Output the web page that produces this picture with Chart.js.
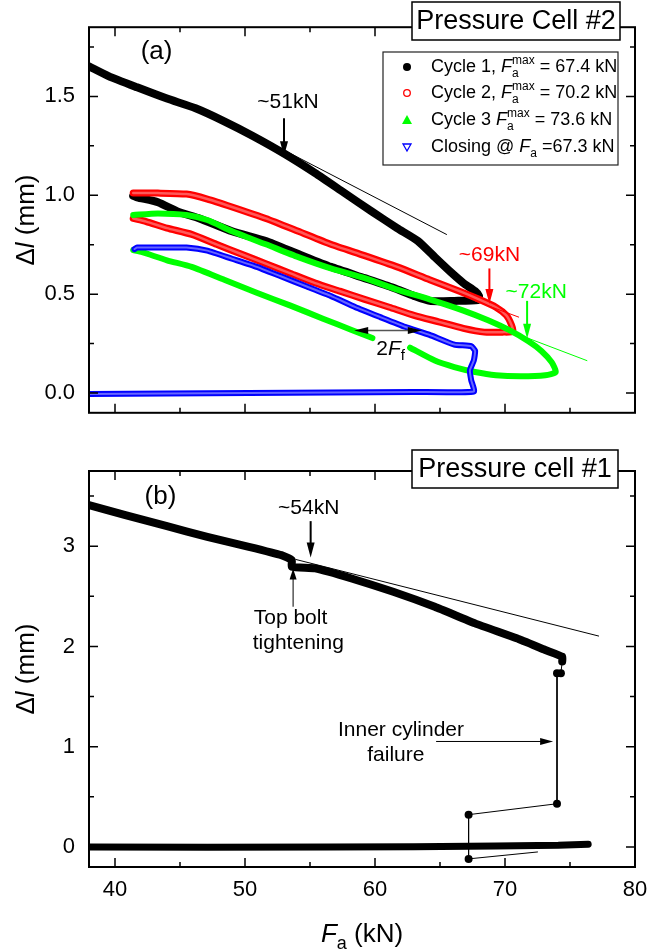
<!DOCTYPE html>
<html>
<head>
<meta charset="utf-8">
<script src="https://cdn.jsdelivr.net/npm/chart.js@4.4.0/dist/chart.umd.min.js"></script>
<style>
  body { margin: 0; background: #fff; width: 648px; height: 952px; position: relative; overflow: hidden; }
  .panel { position: absolute; left: 0; width: 648px; }
  #panelA { top: 0; height: 440px; }
  #panelB { top: 440px; height: 512px; }
</style>
</head>
<body>
<div class="panel" id="panelA"><canvas id="chartA" width="648" height="440"></canvas></div>
<div class="panel" id="panelB"><canvas id="chartB" width="648" height="512"></canvas></div>
<script>
// axis ticks
const fkMajor = [40, 50, 60, 70, 80];
const fkMinor = [45, 55, 65, 75];
const dlMajorA = [0, 0.5, 1.0, 1.5];
const dlLabelsA = ['0.0', '0.5', '1.0', '1.5'];
const dlMinorA = [0.25, 0.75, 1.25, 1.75];
const dlMajorB = [0, 1, 2, 3];
const dlLabelsB = ['0', '1', '2', '3'];
const dlMinorB = [0.5, 1.5, 2.5, 3.5];

// (a) pressure cell #2
const cyc1F = [38.0, 39.5, 41.7, 44.0, 46.2, 48.4, 50.6, 53.0, 55.4, 57.6, 59.8, 61.7, 63.3, 64.6, 65.8, 66.8, 67.7, 68.0, 67.9, 66.1, 64.2, 63.0, 61.4, 59.2, 56.6, 54.1, 51.6, 49.0, 46.5, 44.9, 43.3, 41.7, 41.4];
const cyc1L = [1.652, 1.603, 1.546, 1.489, 1.440, 1.374, 1.300, 1.211, 1.112, 1.014, 0.916, 0.834, 0.769, 0.687, 0.613, 0.556, 0.515, 0.491, 0.470, 0.466, 0.466, 0.491, 0.532, 0.581, 0.638, 0.703, 0.769, 0.818, 0.883, 0.916, 0.965, 0.990, 0.998];

const cyc2F = [41.4, 43.3, 45.5, 47.1, 49.0, 51.6, 54.1, 56.6, 59.2, 61.7, 64.2, 66.5, 68.0, 69.3, 70.1, 70.5, 70.6, 69.9, 68.4, 66.8, 64.9, 63.0, 61.1, 59.2, 57.3, 55.4, 53.5, 51.6, 49.7, 47.8, 45.9, 44.0, 42.4, 41.4];
const cyc2L = [1.011, 1.011, 1.006, 0.981, 0.941, 0.883, 0.818, 0.752, 0.695, 0.638, 0.573, 0.515, 0.474, 0.434, 0.393, 0.344, 0.311, 0.308, 0.308, 0.327, 0.360, 0.393, 0.434, 0.474, 0.515, 0.556, 0.605, 0.654, 0.703, 0.752, 0.802, 0.834, 0.867, 0.883];

const cyc3F = [41.4, 43.3, 45.5, 47.1, 49.0, 51.6, 54.1, 56.6, 59.2, 61.7, 64.2, 66.8, 68.7, 70.3, 71.8, 72.8, 73.6, 73.9, 73.1, 71.2, 69.3, 67.7, 66.1, 64.6, 62.7, 61.2, 59.8, 58.2, 56.0, 53.5, 50.9, 48.4, 45.9, 44.0, 42.1, 41.4];
const cyc3L = [0.900, 0.908, 0.900, 0.875, 0.818, 0.752, 0.687, 0.630, 0.581, 0.523, 0.474, 0.417, 0.368, 0.319, 0.262, 0.213, 0.155, 0.106, 0.090, 0.085, 0.090, 0.106, 0.131, 0.164, 0.229, null, 0.278, 0.319, 0.376, 0.442, 0.507, 0.573, 0.638, 0.671, 0.712, 0.723];

const closeF = [38.0, 44.0, 50.3, 56.6, 63.0, 67.6, 67.4, 67.3, 67.6, 67.7, 67.4, 66.1, 64.2, 62.3, 60.4, 58.5, 56.6, 54.7, 52.8, 50.9, 49.0, 47.1, 45.5, 44.0, 41.7, 41.5];
const closeL = [-0.005, -0.003, 0.0, 0.003, 0.005, 0.008, 0.065, 0.115, 0.164, 0.213, 0.237, 0.245, 0.294, 0.335, 0.384, 0.434, 0.491, 0.540, 0.589, 0.638, 0.679, 0.720, 0.736, 0.736, 0.736, 0.728];

const tanBlackF = [51.6, 65.5], tanBlackL = [1.276, 0.802];
const tanRedF = [67.7, 71.05], tanRedL = [0.466, 0.384];
const tanGreenF = [70.3, 76.3], tanGreenL = [0.314, 0.164];

// (b) pressure cell #1
const mainF = [38.0, 40.8, 44.0, 47.1, 50.3, 52.8, 53.6, 53.6, 55.4, 58.2, 61.4, 64.6, 67.7, 70.9, 73.1, 74.4, 74.4];
const mainL = [3.409, 3.309, 3.199, 3.093, 2.994, 2.911, 2.861, 2.795, 2.778, 2.678, 2.546, 2.396, 2.230, 2.081, 1.965, 1.898, 1.849];
const baseF = [38.0, 47.1, 56.6, 63.0, 69.3, 74.1, 76.4];
const baseL = [0.0, -0.003, 0.0, 0.003, 0.010, 0.017, 0.027];
const failF = [74.4, 74.3, 74.0, 74.0, 67.2, 67.2, 72.5];
const failL = [1.849, 1.733, 1.733, 0.431, 0.322, -0.119, -0.050];
const failDot = [0, 4, 4, 4, 4, 4, 0];
const tanBF = [53.9, 77.2], tanBL = [2.868, 2.104];

const FONT = '"Liberation Sans", Arial, Helvetica, sans-serif';
const GREEN = '#00ff00';

function pts(xs, ys) {
  return xs.map((x, i) => ({ x: x, y: ys[i] }));
}

function band(data, color, width, order, tension) {
  return { data: data, showLine: true, borderColor: color, borderWidth: width, pointRadius: 0,
    tension: tension || 0, borderJoinStyle: 'round', borderCapStyle: 'round', clip: 0, order: order };
}

function fontOf(r) {
  return (r.i ? 'italic ' : '') + r.s + 'px ' + FONT;
}
function runW(ctx, r) {
  ctx.font = fontOf(r);
  if (r.t !== undefined) return ctx.measureText(r.t).width;
  return Math.max(r.sub ? ctx.measureText(r.sub).width : 0, r.sup ? ctx.measureText(r.sup).width : 0);
}
// rich text: runs of normal / italic / sub / sup text
function drawRuns(ctx, x, y, runs, align, color) {
  const w = runs.reduce((a, r) => a + runW(ctx, r), 0);
  let cx = align === 'center' ? x - w / 2 : (align === 'right' ? x - w : x);
  ctx.fillStyle = color || '#000';
  ctx.textAlign = 'left';
  ctx.textBaseline = 'middle';
  runs.forEach(r => {
    ctx.font = fontOf(r);
    if (r.t !== undefined) ctx.fillText(r.t, cx, y);
    if (r.sub) ctx.fillText(r.sub, cx, y + (r.subOff || 7));
    if (r.sup) ctx.fillText(r.sup, cx, y - (r.supOff || 6));
    cx += runW(ctx, r);
  });
}

function arrowHead(ctx, x1, y1, x2, y2, hl, hw) {
  const a = Math.atan2(y2 - y1, x2 - x1);
  ctx.beginPath();
  ctx.moveTo(x2, y2);
  ctx.lineTo(x2 - Math.cos(a) * hl + Math.sin(a) * hw / 2, y2 - Math.sin(a) * hl - Math.cos(a) * hw / 2);
  ctx.lineTo(x2 - Math.cos(a) * hl - Math.sin(a) * hw / 2, y2 - Math.sin(a) * hl + Math.cos(a) * hw / 2);
  ctx.closePath();
  ctx.fill();
}
function arrow(ctx, x1, y1, x2, y2, color, lw, hl, hw) {
  const a = Math.atan2(y2 - y1, x2 - x1);
  ctx.strokeStyle = color;
  ctx.fillStyle = color;
  ctx.lineWidth = lw;
  ctx.beginPath();
  ctx.moveTo(x1, y1);
  ctx.lineTo(x2 - Math.cos(a) * hl * 0.7, y2 - Math.sin(a) * hl * 0.7);
  ctx.stroke();
  arrowHead(ctx, x1, y1, x2, y2, hl, hw);
}

// frame, inward ticks on all four sides
function drawFrame(chart, yMajor, yMinor, xLabels) {
  const ctx = chart.ctx, a = chart.chartArea;
  const sx = chart.scales.x, sy = chart.scales.y;
  ctx.save();
  ctx.strokeStyle = '#000';
  ctx.lineWidth = 2;
  ctx.strokeRect(a.left, a.top, a.right - a.left, a.bottom - a.top);
  ctx.lineWidth = 1.5;
  ctx.beginPath();
  const tx = (vals, len) => vals.forEach(v => {
    const p = sx.getPixelForValue(v);
    ctx.moveTo(p, a.bottom); ctx.lineTo(p, a.bottom - len);
    ctx.moveTo(p, a.top); ctx.lineTo(p, a.top + len);
  });
  const ty = (vals, len) => vals.forEach(v => {
    const p = sy.getPixelForValue(v);
    ctx.moveTo(a.left, p); ctx.lineTo(a.left + len, p);
    ctx.moveTo(a.right, p); ctx.lineTo(a.right - len, p);
  });
  tx(fkMajor, 9); tx(fkMinor, 5);
  ty(yMajor, 9); ty(yMinor, 5);
  ctx.stroke();
  if (xLabels) {
    fkMajor.forEach(v => drawRuns(ctx, sx.getPixelForValue(v), a.bottom + 23, [{ t: String(v), s: 22 }], 'center'));
  }
  ctx.restore();
}

function drawTitleBox(ctx, x1, y1, x2, y2, text) {
  ctx.save();
  ctx.fillStyle = '#fff';
  ctx.fillRect(x1, y1, x2 - x1, y2 - y1);
  ctx.strokeStyle = '#000';
  ctx.lineWidth = 1.5;
  ctx.strokeRect(x1, y1, x2 - x1, y2 - y1);
  drawRuns(ctx, (x1 + x2) / 2, (y1 + y2) / 2 + 1, [{ t: text, s: 27 }], 'center');
  ctx.restore();
}

function drawYTitle(chart) {
  const ctx = chart.ctx, a = chart.chartArea;
  ctx.save();
  ctx.translate(27, (a.top + a.bottom) / 2);
  ctx.rotate(-Math.PI / 2);
  drawRuns(ctx, 0, 0, [{ t: '\u0394', s: 26 }, { t: 'l', s: 26, i: true }, { t: ' (mm)', s: 26 }], 'center');
  ctx.restore();
}

function xScale(height) {
  return {
    type: 'linear', min: 38, max: 80,
    grid: { display: false, drawTicks: false }, border: { display: false },
    ticks: { display: false },
    afterBuildTicks: s => { s.ticks = fkMajor.map(v => ({ value: v })); },
    afterFit: s => { s.height = height; }
  };
}
function yScale(min, max, major, labels) {
  return {
    type: 'linear', min: min, max: max,
    grid: { display: false, drawTicks: false }, border: { display: false },
    ticks: { padding: 14, color: '#000', font: { family: FONT, size: 22 },
      callback: v => labels[major.indexOf(v)] },
    afterBuildTicks: s => { s.ticks = major.map(v => ({ value: v })); },
    afterFit: s => { s.width = 89; }
  };
}

const decorA = {
  id: 'decorA',
  afterDraw(chart) {
    const ctx = chart.ctx;
    const X = v => chart.scales.x.getPixelForValue(v);
    const Y = v => chart.scales.y.getPixelForValue(v);
    drawFrame(chart, dlMajorA, dlMinorA, false);
    drawYTitle(chart);
    ctx.save();
    drawRuns(ctx, X(43.2), Y(1.727), [{ t: '(a)', s: 26 }], 'center');
    drawRuns(ctx, X(53.3), Y(1.472), [{ t: '~51kN', s: 21 }], 'center');
    arrow(ctx, X(53.0), Y(1.39), X(53.0), Y(1.197), '#000', 2, 15, 8);
    drawRuns(ctx, X(68.8), Y(0.695), [{ t: '~69kN', s: 21 }], 'center', '#ff0000');
    arrow(ctx, X(68.8), Y(0.630), X(68.8), Y(0.45), '#ff0000', 2, 15, 8);
    drawRuns(ctx, X(72.4), Y(0.510), [{ t: '~72kN', s: 21 }], 'center', GREEN);
    arrow(ctx, X(71.7), Y(0.466), X(71.7), Y(0.275), GREEN, 2, 15, 8);
    // 2Ff double arrow
    ctx.strokeStyle = '#555';
    ctx.lineWidth = 1.5;
    ctx.beginPath();
    ctx.moveTo(X(58.4) + 8, Y(0.316));
    ctx.lineTo(X(63.6) - 8, Y(0.316));
    ctx.stroke();
    ctx.fillStyle = '#000';
    arrowHead(ctx, X(63.6), Y(0.316), X(58.4), Y(0.316), 14, 7);
    arrowHead(ctx, X(58.4), Y(0.316), X(63.6), Y(0.316), 14, 7);
    drawRuns(ctx, X(60.1), Y(0.221), [{ t: '2', s: 21 }, { t: 'F', s: 21, i: true }, { sub: 'f', s: 15, subOff: 7 }], 'left');

    // legend
    ctx.fillStyle = '#fff';
    ctx.fillRect(383, 52, 235, 113);
    ctx.strokeStyle = '#222';
    ctx.lineWidth = 1.2;
    ctx.strokeRect(383, 52, 235, 113);
    const mx = 407, rows = [67, 93, 120, 147];
    ctx.fillStyle = '#000';
    ctx.beginPath(); ctx.arc(mx, rows[0], 4, 0, Math.PI * 2); ctx.fill();
    ctx.strokeStyle = '#ff0000'; ctx.lineWidth = 1.3;
    ctx.beginPath(); ctx.arc(mx, rows[1], 3.3, 0, Math.PI * 2); ctx.stroke();
    ctx.fillStyle = GREEN;
    ctx.beginPath(); ctx.moveTo(mx, rows[2] - 5); ctx.lineTo(mx + 5, rows[2] + 4); ctx.lineTo(mx - 5, rows[2] + 4); ctx.closePath(); ctx.fill();
    ctx.strokeStyle = '#0000ff'; ctx.lineWidth = 1.3;
    ctx.beginPath(); ctx.moveTo(mx - 4, rows[3] - 3); ctx.lineTo(mx + 4, rows[3] - 3); ctx.lineTo(mx, rows[3] + 4); ctx.closePath(); ctx.stroke();
    const fa = [{ t: 'F', s: 18, i: true }, { sub: 'a', sup: 'max', s: 12, subOff: 7, supOff: 6 }];
    drawRuns(ctx, 431, rows[0], [{ t: 'Cycle 1, ', s: 18 }].concat(fa, [{ t: ' = 67.4 kN', s: 18 }]), 'left');
    drawRuns(ctx, 431, rows[1], [{ t: 'Cycle 2, ', s: 18 }].concat(fa, [{ t: ' = 70.2 kN', s: 18 }]), 'left');
    drawRuns(ctx, 431, rows[2], [{ t: 'Cycle 3 ', s: 18 }].concat(fa, [{ t: ' = 73.6 kN', s: 18 }]), 'left');
    drawRuns(ctx, 431, rows[3], [{ t: 'Closing @ ', s: 18 }, { t: 'F', s: 18, i: true }, { sub: 'a', s: 12, subOff: 7 }, { t: ' =67.3 kN', s: 18 }], 'left');
    ctx.restore();
    drawTitleBox(ctx, 412, 2, 620, 40, 'Pressure Cell #2');
  }
};

const decorB = {
  id: 'decorB',
  afterDraw(chart) {
    const ctx = chart.ctx;
    const X = v => chart.scales.x.getPixelForValue(v);
    const Y = v => chart.scales.y.getPixelForValue(v);
    drawFrame(chart, dlMajorB, dlMinorB, true);
    drawYTitle(chart);
    ctx.save();
    drawRuns(ctx, (chart.chartArea.left + chart.chartArea.right) / 2, 495,
      [{ t: 'F', s: 26, i: true }, { sub: 'a', s: 18, subOff: 9 }, { t: ' (kN)', s: 26 }], 'center');
    drawRuns(ctx, X(43.5), Y(3.49), [{ t: '(b)', s: 26 }], 'center');
    drawRuns(ctx, X(54.9), Y(3.375), [{ t: '~54kN', s: 21 }], 'center');
    arrow(ctx, X(55.05), Y(3.25), X(55.05), Y(2.888), '#000', 2, 15, 8);
    drawRuns(ctx, X(53.5), Y(2.28), [{ t: 'Top bolt', s: 21 }], 'center');
    drawRuns(ctx, X(54.1), Y(2.03), [{ t: 'tightening', s: 21 }], 'center');
    arrow(ctx, X(53.7), Y(2.396), X(53.7), Y(2.778), '#000', 1, 11, 7);
    drawRuns(ctx, X(62.0), Y(1.168), [{ t: 'Inner cylinder', s: 21 }], 'center');
    drawRuns(ctx, X(61.6), Y(0.919), [{ t: 'failure', s: 21 }], 'center');
    arrow(ctx, X(64.7), Y(1.052), X(73.7), Y(1.052), '#000', 1, 13, 7);
    ctx.restore();
    drawTitleBox(ctx, 412, 10, 618, 48, 'Pressure cell #1');
  }
};

const common = { responsive: false, animation: false, plugins: { legend: { display: false }, tooltip: { enabled: false } } };

new Chart(document.getElementById('chartA'), {
  type: 'scatter',
  data: {
    datasets: [
      band(pts(cyc1F, cyc1L), '#000', 8, 9, 0.2),
      band(pts(cyc2F, cyc2L), '#ff0000', 7, 8, 0.2),
      band(pts(cyc2F, cyc2L), 'rgba(255,255,255,0.35)', 2.5, 7, 0.2),
      band(pts(cyc3F, cyc3L), GREEN, 6, 6, 0.2),
      band(pts(closeF, closeL), '#0000ff', 6, 5, 0.15),
      band(pts(closeF, closeL), 'rgba(255,255,255,0.4)', 2, 4, 0.15),
      band(pts(tanBlackF, tanBlackL), '#000', 1, 3),
      band(pts(tanRedF, tanRedL), '#ff0000', 1, 2),
      band(pts(tanGreenF, tanGreenL), GREEN, 1, 1)
    ]
  },
  options: Object.assign({}, common, {
    layout: { padding: { top: 20, right: 13, left: 0, bottom: 0 } },
    scales: { x: xScale(24), y: yScale(-0.1, 1.85, dlMajorA, dlLabelsA) }
  }),
  plugins: [decorA]
});

const failSet = band(pts(failF, failL), '#000', 1, 1);
failSet.pointRadius = failDot;
failSet.pointBackgroundColor = '#000';
failSet.pointBorderWidth = 0;

new Chart(document.getElementById('chartB'), {
  type: 'scatter',
  data: {
    datasets: [
      band(pts(mainF, mainL), '#000', 8, 4, 0.15),
      band(pts(baseF, baseL), '#000', 7, 3),
      band(pts(tanBF, tanBL), '#000', 1, 2),
      failSet
    ]
  },
  options: Object.assign({}, common, {
    layout: { padding: { top: 31, right: 13, left: 0, bottom: 0 } },
    scales: { x: xScale(85), y: yScale(-0.2, 3.75, dlMajorB, dlLabelsB) }
  }),
  plugins: [decorB]
});
</script>
</body>
</html>
